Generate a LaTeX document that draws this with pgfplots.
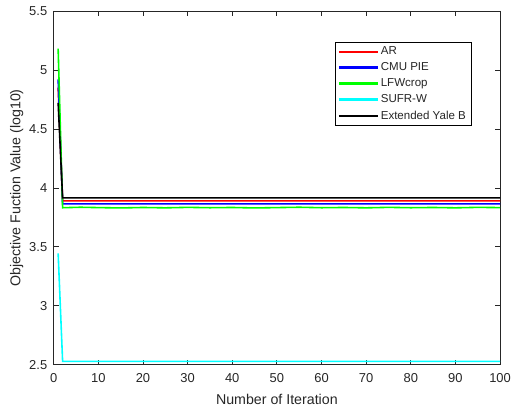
\documentclass[border=0pt]{standalone}
\usepackage{pgfplots}
\pgfplotsset{compat=1.18}
\usepackage{fontspec}
\setmainfont{Liberation Sans}
\definecolor{axgray}{HTML}{262626}
\definecolor{mred}{RGB}{255,0,0}
\definecolor{mblue}{RGB}{0,0,255}
\definecolor{mgreen}{RGB}{0,255,0}
\definecolor{mcyan}{RGB}{0,255,255}
\pgfplotsset{
  mylegimg/.style={legend image code/.code={\draw[#1, line width=2.2pt, line cap=butt] (0pt,0pt) -- (39pt,0pt);}},
}
\begin{document}
\begin{tikzpicture}
\begin{axis}[
  scale only axis,
  width=449pt, height=356pt,
  xmin=0, xmax=100, ymin=2.5, ymax=5.5,
  xtick={0,10,...,100},
  ytick={2.5,3,...,5.5},
  yticklabel style={/pgf/number format/fixed,/pgf/number format/precision=1, xshift=-3pt},
  xticklabel style={yshift=-5pt},
  /pgf/number format/assume math mode=true,
  tick align=inside,
  major tick length=5pt,
  axis line style={axgray, line width=0.8pt},
  every tick/.style={axgray, line width=0.8pt},
  ticklabel style={font=\fontsize{13}{15}\selectfont, text=axgray},
  xlabel={Number of Iteration},
  ylabel={Objective Fuction Value (log10)},
  label style={font=\fontsize{14.3}{16}\selectfont, text=axgray},
  xlabel style={yshift=-5pt},
  ylabel style={yshift=-1pt},
  legend style={at={(0.935,0.913)}, anchor=north east, fill=white, draw, text=axgray,
    font=\fontsize{11.6}{13}\selectfont, row sep=2.5pt, inner xsep=3pt, inner ysep=3pt},
  legend cell align=left,
  mylegimg,
  clip=true,
]
\addplot[mred, line width=1.6pt] coordinates {(1,4.85) (2,3.89) (100,3.89)};
\addlegendentry{AR}
\addplot[mblue, line width=1.6pt] coordinates {(1,4.92) (2,3.864) (100,3.864)};
\addlegendentry{CMU PIE}
\addplot[mgreen, line width=1.6pt] coordinates {(1,5.18) (2,3.832) (6,3.836) (10,3.833) (15,3.830) (20,3.834) (25,3.831) (30,3.835) (35,3.832) (40,3.834) (45,3.830) (50,3.833) (55,3.836) (60,3.832) (65,3.834) (70,3.831) (75,3.835) (80,3.832) (85,3.834) (90,3.831) (95,3.835) (100,3.833)};
\addlegendentry{LFWcrop}
\addplot[mcyan, line width=1.6pt] coordinates {(1,3.445) (2,2.53) (100,2.53)};
\addlegendentry{SUFR-W}
\addplot[black, line width=1.6pt] coordinates {(1,4.72) (2,3.915) (100,3.915)};
\addlegendentry{Extended Yale B}
\end{axis}
\pgfresetboundingbox
\path[use as bounding box] (-54pt,-43pt) rectangle (460pt,367pt);
\end{tikzpicture}
\end{document}
